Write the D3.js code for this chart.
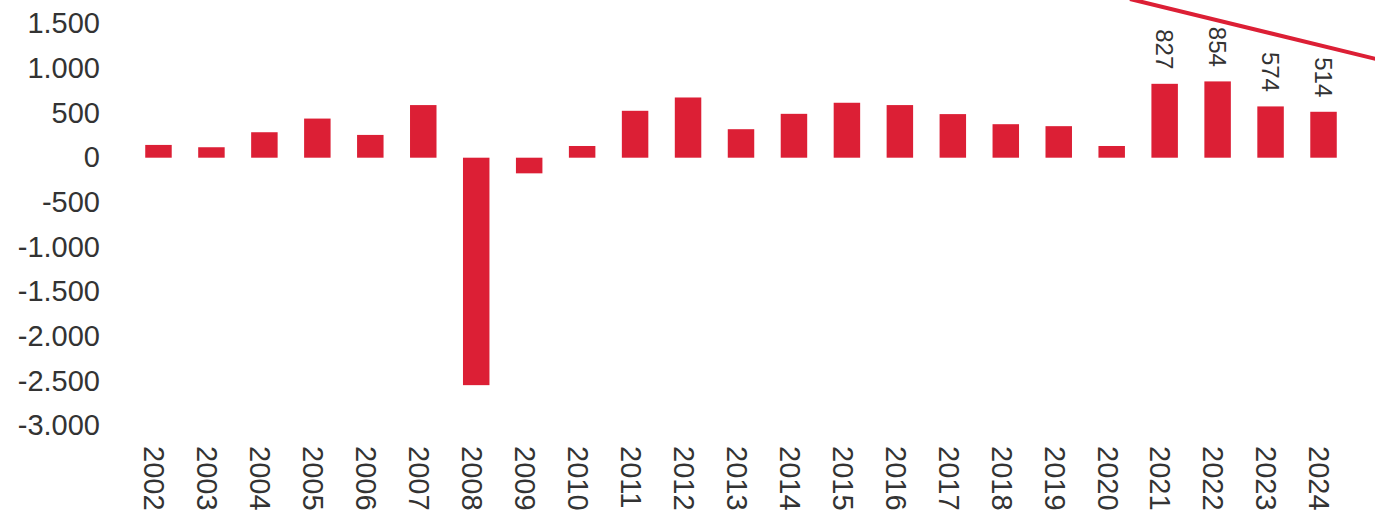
<!DOCTYPE html>
<html>
<head>
<meta charset="utf-8">
<script src="https://cdn.jsdelivr.net/npm/d3@7"></script>
<style>
  body { margin: 0; background: #fff; }
  svg { display: block; font-family: "Liberation Sans", Arial, sans-serif; }
</style>
</head>
<body>
<div id="chart"></div>
<script>
// data
var years = ["2002","2003","2004","2005","2006","2007","2008","2009","2010","2011","2012",
             "2013","2014","2015","2016","2017","2018","2019","2020","2021","2022","2023","2024"];
var values = [143, 117, 285, 438, 255, 589, -2546, -175, 131, 525, 674,
              319, 491, 615, 589, 488, 375, 353, 131, 827, 854, 574, 514];
var labelled = ["2021","2022","2023","2024"];
var yTicks = [1500, 1000, 500, 0, -500, -1000, -1500, -2000, -2500, -3000];

var width = 1375,
    height = 520;
var red = "#dc1f35";

var svg = d3.select("#chart").append("svg")
    .attr("width", width)
    .attr("height", height);

var x = d3.scaleBand()
    .domain(years)
    .range([132, 1350])
    .paddingInner(0.5)
    .paddingOuter(0.25);

var y = d3.scaleLinear()
    .domain([-3000, 1500])
    .range([425.7, 23.7]);

// thousands with a dot, plain hyphen for minus
var fmt = function(d) {
  return d3.format(",")(d).replace(/,/g, ".").replace("\u2212", "-");
};

// y axis, labels only
var yAxis = svg.append("g")
    .attr("transform", "translate(100,0)")
    .call(d3.axisLeft(y).tickValues(yTicks).tickSize(0).tickPadding(0).tickFormat(fmt));
yAxis.select(".domain").remove();
yAxis.selectAll("text")
    .attr("fill", "#333")
    .style("font-size", "29px")
    .style("font-family", "'Liberation Sans', Arial, sans-serif");

// bars
var rows = years.map(function(yr, i) { return { year: yr, value: values[i] }; });

svg.selectAll("rect.bar")
    .data(rows)
  .enter().append("rect")
    .attr("class", "bar")
    .attr("x", function(d) { return x(d.year); })
    .attr("width", x.bandwidth())
    .attr("y", function(d) { return y(Math.max(0, d.value)); })
    .attr("height", function(d) { return Math.abs(y(d.value) - y(0)); })
    .attr("fill", red);

// value labels on the last bars, rotated
svg.selectAll("text.val")
    .data(rows.filter(function(d) { return labelled.indexOf(d.year) >= 0; }))
  .enter().append("text")
    .attr("class", "val")
    .attr("transform", function(d) {
      return "translate(" + (x(d.year) + x.bandwidth() / 2) + "," + (y(d.value) - 14.5) + ") rotate(90)";
    })
    .attr("text-anchor", "end")
    .attr("dy", "0.35em")
    .attr("fill", "#333")
    .style("font-size", "24px")
    .text(function(d) { return d.value; });

// x axis labels, rotated
svg.selectAll("text.year")
    .data(years)
  .enter().append("text")
    .attr("class", "year")
    .attr("transform", function(d) {
      return "translate(" + (x(d) + x.bandwidth() / 2 - 4) + ",446) rotate(90)";
    })
    .attr("text-anchor", "start")
    .attr("dy", "0.35em")
    .attr("fill", "#333")
    .style("font-size", "29px")
    .text(function(d) { return d; });

// decorative red stroke in the top right corner
svg.append("line")
    .attr("x1", 1130).attr("y1", -1)
    .attr("x2", 1376).attr("y2", 59)
    .attr("stroke", red)
    .attr("stroke-width", 4);
</script>
</body>
</html>
